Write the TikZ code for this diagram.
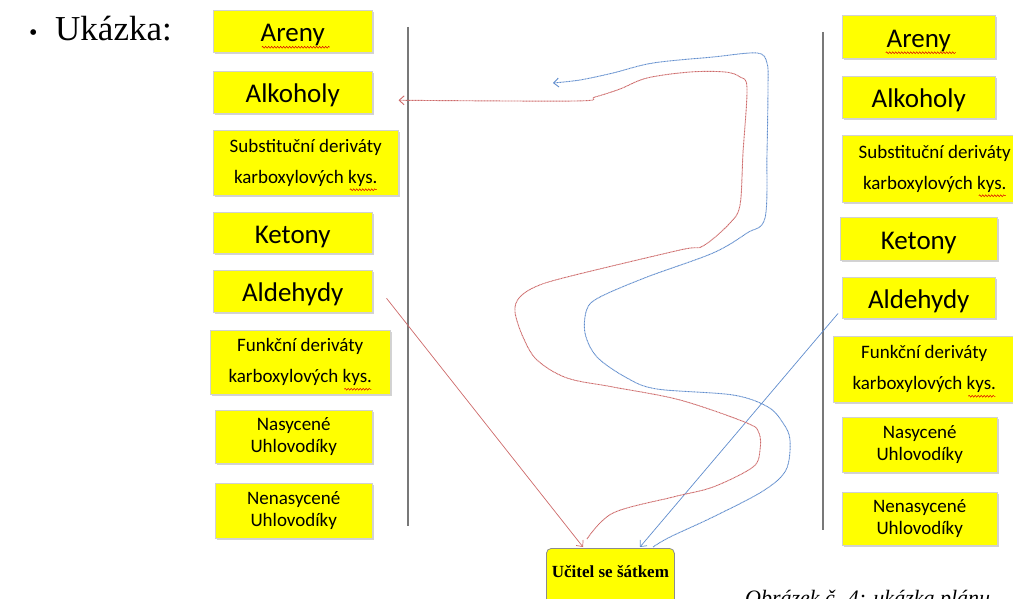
\documentclass[tikz,border=0pt]{standalone}
\usepackage{fontspec}
\setmainfont{Liberation Serif}
\newfontfamily\boxfont{Carlito}
\usetikzlibrary{shadows,arrows.meta,calc,decorations.pathmorphing}
\definecolor{myred}{RGB}{205,105,105}
\definecolor{myblue}{RGB}{95,140,205}
\definecolor{ybox}{RGB}{255,255,0}
\definecolor{vgray}{RGB}{120,120,120}
\tikzset{
  ybox/.style={fill=ybox, draw=black!18, line width=0.5pt,
    drop shadow={opacity=0.35, shadow xshift=1.5pt, shadow yshift=-2pt},
    anchor=north west, inner sep=0pt, align=center},
  bigtxt/.style={font=\boxfont\fontsize{27}{30}\selectfont, text height=21pt, text depth=0pt},
  twotxt/.style={font=\boxfont\fontsize{19}{31}\selectfont},
  smalltxt/.style={font=\boxfont\fontsize{19}{22}\selectfont},
  vline/.style={draw=vgray, line width=1.1pt},
  squig/.style={draw=red!85!black, line width=0.5pt,
    decorate, decoration={snake, segment length=3pt, amplitude=0.9pt}},
  wavyred/.style={draw=myred, line width=0.9pt, dash pattern=on 1pt off 0.5pt,
    -{Straight Barb[length=5pt,width=9pt]}},
  wavyblue/.style={draw=myblue, line width=0.9pt, dash pattern=on 1pt off 0.5pt,
    -{Straight Barb[length=5pt,width=9pt]}},
  straightred/.style={draw=myred, line width=0.7pt, -{Straight Barb[length=5pt,width=9pt]}},
  straightblue/.style={draw=myblue, line width=0.7pt, -{Straight Barb[length=5pt,width=9pt]}},
  ubox/.style={fill=ybox, draw=black!45, line width=0.8pt, rounded corners=5pt,
    anchor=north west, inner sep=0pt, font=\bfseries\fontsize{17}{19}\selectfont,
    text height=29pt, text depth=33pt, minimum width=128pt},
}
\begin{document}
\begin{tikzpicture}[x=1pt,y=-1pt]
\useasboundingbox (0,0) rectangle (1013,599);
\clip (0,0) rectangle (1013,599);

% bullet and heading
\node[anchor=base west, inner sep=0pt, font=\fontsize{24}{26}\selectfont] (bul) at (29,41) {•};
\node[anchor=base west, inner sep=0pt, font=\fontsize{35}{38}\selectfont] (head) at (55,41) {Ukázka:};

% left column
\node[ybox, bigtxt, minimum width=159pt, minimum height=42pt] (L1) at (213,10) {Areny};
\node[ybox, bigtxt, minimum width=159pt, minimum height=42pt] (L2) at (213,71) {Alkoholy};
\node[ybox, twotxt, minimum width=185pt, minimum height=65pt] (L3) at (213,130) {Substituční deriváty\\karboxylových kys.};
\node[ybox, bigtxt, minimum width=159pt, minimum height=41pt] (L4) at (213,212) {Ketony};
\node[ybox, bigtxt, minimum width=159pt, minimum height=42pt] (L5) at (213,270) {Aldehydy};
\node[ybox, twotxt, minimum width=180pt, minimum height=64pt] (L6) at (210,330) {Funkční deriváty\\karboxylových kys.};
\node[ybox, smalltxt, minimum width=157pt, minimum height=53pt] (L7) at (215,410) {Nasycené\\Uhlovodíky};
\node[ybox, smalltxt, minimum width=157pt, minimum height=55pt] (L8) at (215,483) {Nenasycené\\Uhlovodíky};
\draw[vline] (408,27) -- (408,526);

% right column
\node[ybox, bigtxt, minimum width=153pt, minimum height=43pt] (R1) at (842,15) {Areny};
\node[ybox, bigtxt, minimum width=153pt, minimum height=42pt] (R2) at (842,76) {Alkoholy};
\node[ybox, twotxt, minimum width=185pt, minimum height=67pt] (R3) at (842,135) {Substituční deriváty\\karboxylových kys.};
\node[ybox, bigtxt, minimum width=157pt, minimum height=43pt] (R4) at (840,217) {Ketony};
\node[ybox, bigtxt, minimum width=153pt, minimum height=41pt] (R5) at (842,277) {Aldehydy};
\node[ybox, twotxt, minimum width=182pt, minimum height=66pt] (R6) at (833,336) {Funkční deriváty\\karboxylových kys.};
\node[ybox, smalltxt, minimum width=155pt, minimum height=55pt] (R7) at (842,417) {Nasycené\\Uhlovodíky};
\node[ybox, smalltxt, minimum width=155pt, minimum height=53pt] (R8) at (842,492) {Nenasycené\\Uhlovodíky};
\draw[vline] (823,32) -- (823,530);

% spell-check underlines
\draw[squig] ($(L1.center)+(-31,16)$) -- ++(68,0);
\draw[squig] ($(R1.center)+(-33,16)$) -- ++(70,0);
\draw[squig] ($(L3.center)+(44,27)$) -- ++(27,0);
\draw[squig] ($(R3.center)+(44,27)$) -- ++(27,0);
\draw[squig] ($(L6.center)+(44,27)$) -- ++(27,0);
\draw[squig] ($(R6.center)+(44,27)$) -- ++(27,0);

% teacher box
\node[ubox] (U) at (546,548) {Učitel se šátkem};

% caption (cut off at the bottom, as in the source)
\node[anchor=base west, inner sep=0pt, font=\itshape\fontsize{22}{24}\selectfont] (cap) at (745,605) {Obrázek č. 4: ukázka plánu};

% connector end points
\coordinate (rA) at ($(L5.east)+(14,7)$);
\coordinate (rT) at ($(U.north west)+(37,-1)$);
\coordinate (rS) at ($(U.north west)+(41,-9)$);
\coordinate (rE) at ($(L2.east)+(26,8)$);
\coordinate (bA) at ($(R5.south west)+(-4,-5)$);
\coordinate (bT) at ($(U.north west)+(94,-1)$);
\coordinate (bS) at ($(U.north west)+(107,-1)$);
\coordinate (bE) at (553,83);

% straight connectors
\draw[straightred] (rA) -- (rT);
\draw[straightblue] (bA) -- (bT);

% winding red path
\draw[wavyred] plot[smooth, tension=0.55] coordinates {
 (rS) (613,513) (673,497) (713,487) (753,467) (760,450) (759,433) (747,423)
 (680,400) (613,387) (567,378) (537,360) (523,337) (515,312) (519,298)
 (535,287) (567,277) (680,250) (703,246) (730,223) (740,205) (743,153)
 (747,88) (740,77) (725,72) (690,72) (647,78) (620,89) (595,97) (575,101)
 (rE)};

% winding blue path
\draw[wavyblue] plot[smooth, tension=0.55] coordinates {
 (bS) (670,537) (713,517) (763,491) (786,470) (790,440) (783,423) (768,407)
 (733,395) (657,389) (627,378) (597,357) (585,333) (587,309) (600,297)
 (647,277) (713,253) (747,233) (765,218) (767,153) (768,87) (767,63)
 (757,53) (713,57) (653,63) (613,73) (580,80) (bE)};
\end{tikzpicture}
\end{document}
